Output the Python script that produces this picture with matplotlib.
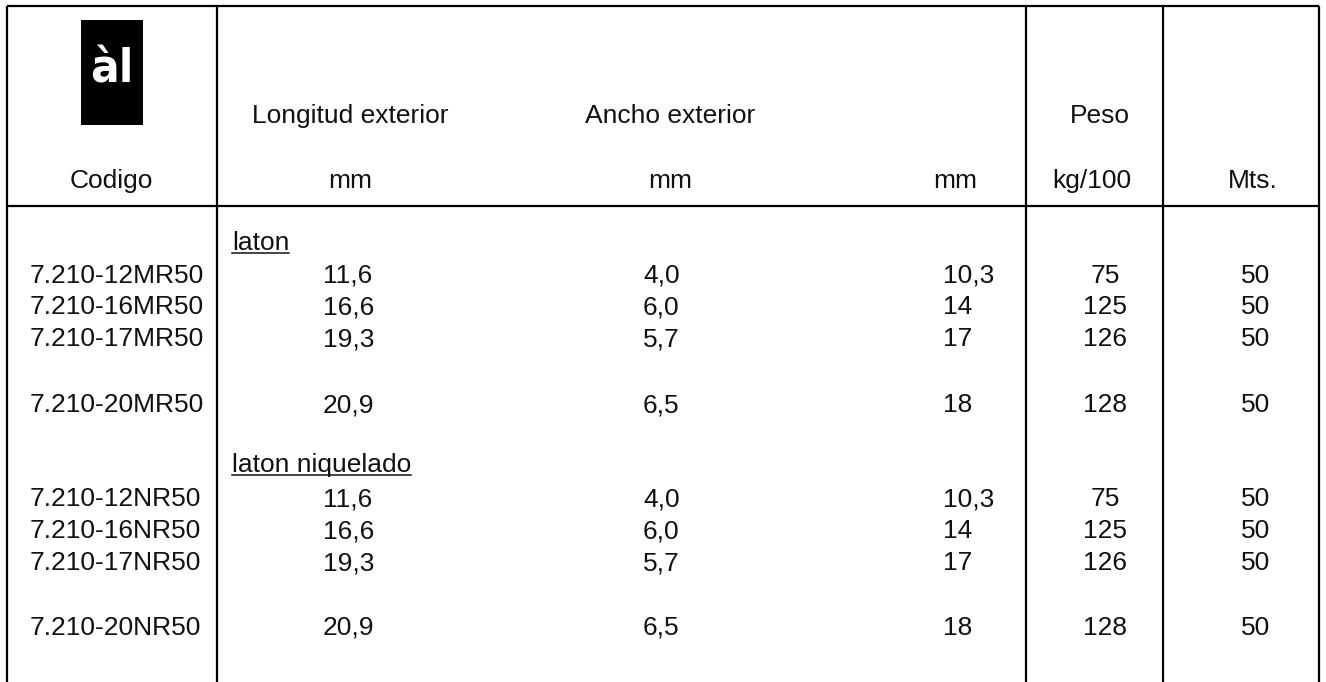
import matplotlib
matplotlib.use("Agg")
import matplotlib.pyplot as plt
from matplotlib.patches import Rectangle

# ---------------- data ----------------
header_top = ["Longitud exterior", "Ancho exterior", "Peso"]
header_units = ["Codigo", "mm", "mm", "mm", "kg/100", "Mts."]

group_names = ["laton", "laton niquelado"]
codes_laton = ["7.210-12MR50", "7.210-16MR50", "7.210-17MR50", "7.210-20MR50"]
codes_niq = ["7.210-12NR50", "7.210-16NR50", "7.210-17NR50", "7.210-20NR50"]
longitud = ["11,6", "16,6", "19,3", "20,9"]
ancho = ["4,0", "6,0", "5,7", "6,5"]
tercera_mm = ["10,3", "14", "17", "18"]
peso = [75, 125, 126, 128]
mts = [50, 50, 50, 50]

# ---------------- layout ----------------
W, H = 1326, 682
fig = plt.figure(figsize=(W / 100, H / 100), dpi=100)
ax = fig.add_axes([0, 0, 1, 1])
ax.set_xlim(0, W)
ax.set_ylim(H, 0)
ax.axis("off")

FONT = "Liberation Sans"
FS = 19
COL = "#111111"
LW = 1.6

left, right, top = 7, 1319, 6
vlines = [217, 1026, 1163]
header_line = 206

ax.plot([left, right], [top, top], color="black", lw=LW, solid_capstyle="butt")
ax.plot([left, right], [header_line, header_line], color="black", lw=LW, solid_capstyle="butt")
for x in [left, right] + vlines:
    ax.plot([x, x], [top, H], color="black", lw=LW, solid_capstyle="butt")

# logo
ax.add_patch(Rectangle((81, 20), 62, 105, facecolor="black", edgecolor="none"))
ax.text(112, 70, "àl", color="white", fontsize=34, fontweight="bold",
        family="DejaVu Sans", ha="center", va="center", fontstretch="condensed")

def txt(x, y, s, ha="center", **kw):
    return ax.text(x, y, s, ha=ha, va="baseline", fontsize=FS, family=FONT,
                   color=COL, **kw)

# header
top_x = [350, 670, 1100]
for x, s in zip(top_x, header_top):
    txt(x, 123, s)
unit_x = [111, 350, 670, 955, 1092, 1253]
for x, s in zip(unit_x, header_units):
    txt(x, 188, s)

# body
group_label_y = [252, 474]
row_baselines = [[283, 314, 346, 412], [506, 538, 570, 635]]
code_groups = [codes_laton, codes_niq]

underline_texts = []
for g in range(2):
    t = txt(232, group_label_y[g] - 2, group_names[g], ha="left")
    underline_texts.append((t, group_label_y[g] + 1))
    for i in range(4):
        y = row_baselines[g][i]
        txt(30, y, code_groups[g][i], ha="left")
        txt(323, y, longitud[i], ha="left")
        txt(643, y, ancho[i], ha="left")
        txt(943, y, tercera_mm[i], ha="left")
        txt(1105, y, str(peso[i]))
        txt(1256, y, str(mts[i]))

fig.canvas.draw()
inv = ax.transData.inverted()
for t, uy in underline_texts:
    bb = t.get_window_extent()
    x0 = inv.transform((bb.x0, bb.y0))[0]
    x1 = inv.transform((bb.x1, bb.y0))[0]
    ax.plot([x0, x1], [uy, uy], color=COL, lw=1.1)

fig.savefig("out.png", dpi=100, facecolor="white")
